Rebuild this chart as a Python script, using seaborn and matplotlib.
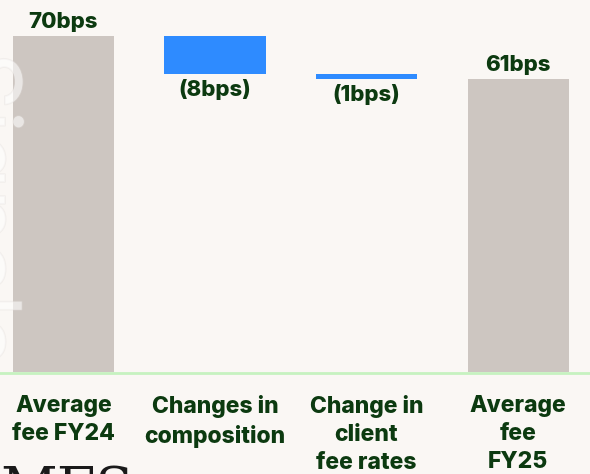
import pandas as pd
import matplotlib.pyplot as plt
import matplotlib.patheffects as pe
import seaborn as sns

# data
labels = ["Average\nfee FY24", "Changes in\ncomposition", "Change in\nclient\nfee rates", "Average\nfee\nFY25"]
bases = [0, 62, 61, 0]
heights = [70, 8, 1, 61]
value_text = ["70bps", "(8bps)", "(1bps)", "61bps"]
bar_colors = ["#cdc6c1", "#2e8bff", "#2e8bff", "#cdc6c1"]

bg = "#faf7f4"
dark = "#0c3a10"

df = pd.DataFrame({"label": labels, "base": bases, "height": heights})

sns.set_theme(style="white")
plt.rcParams["font.family"] = ["Inter", "DejaVu Sans"]

fig = plt.figure(figsize=(5.9, 4.74), dpi=100, facecolor=bg)
ax = fig.add_axes([0, 102 / 474, 1, 372 / 474])
ax.set_facecolor(bg)

# waterfall: floating bars via bottom
sns.barplot(data=df, x="label", y="height", color=bar_colors[0],
            bottom=bases, width=0.667, ax=ax, saturation=1, linewidth=0)
for p, c in zip(ax.patches, bar_colors):
    p.set_facecolor(c)

ax.set_xlim(-0.419, 3.475)
ax.set_ylim(0, 77.5)

# value labels
for i, (b, h, t) in enumerate(zip(bases, heights, value_text)):
    if i in (0, 3):
        ax.text(i, b + h + 0.9, t, ha="center", va="bottom", fontsize=16,
                fontweight="heavy", color=dark)
    else:
        ax.text(i, b - 1.0, t, ha="center", va="top", fontsize=16,
                fontweight="heavy", color=dark)

# category labels under the baseline
ax.set_xlabel("")
ax.set_ylabel("")
ax.set_yticks([])
ax.set_xticks([])
for i, lab in enumerate(labels):
    ax.annotate(lab, xy=(i, 0), xycoords=("data", "axes fraction"),
                xytext=(0, -16.5), textcoords="offset points",
                ha="center", va="top", fontsize=16.5, fontweight="heavy",
                color=dark, linespacing=1.37, annotation_clip=False)

for s in ["top", "left", "right"]:
    ax.spines[s].set_visible(False)
ax.spines["bottom"].set_color("#c6f2c0")
ax.spines["bottom"].set_linewidth(2)
ax.spines["bottom"].set_position(("outward", 1))

# faint watermark on the left edge
fig.text(-0.035, 0.56, "Signals", rotation=270, fontsize=66, color="white",
         alpha=0.35, ha="center", va="center", zorder=10,
         path_effects=[pe.withStroke(linewidth=1.2, foreground="#e2dedb")])
fig.text(0.0, -0.095, "MFS", fontsize=40, family="DejaVu Serif",
         color="#1a1a1a", ha="left", va="bottom")

fig.savefig("out.png", dpi=100, facecolor=bg)
